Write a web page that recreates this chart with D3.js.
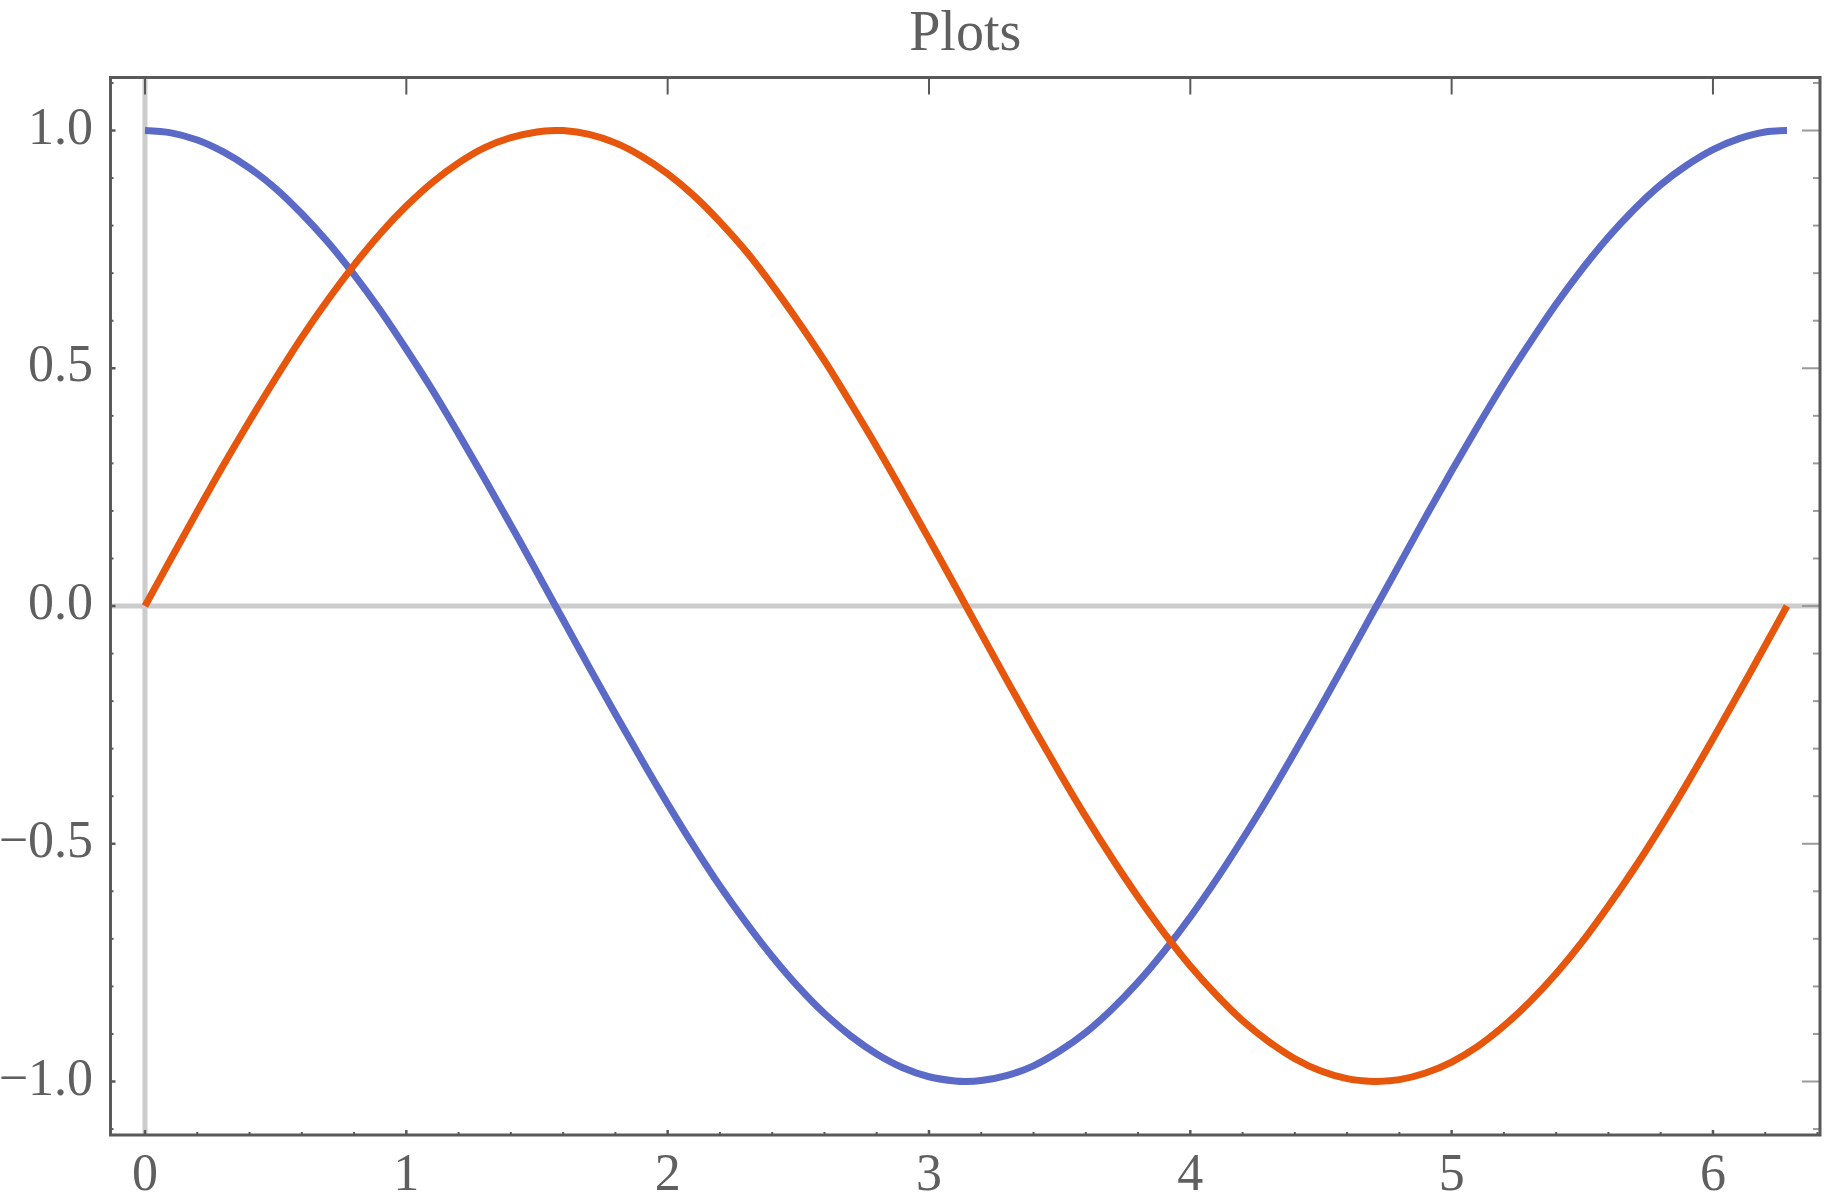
<!DOCTYPE html>
<html>
<head>
<meta charset="utf-8">
<script src="https://cdn.jsdelivr.net/npm/d3@7"></script>
<style>
html,body{margin:0;padding:0;background:#fff;}
svg{display:block;}
</style>
</head>
<body>
<svg id="chart" width="1838" height="1203"></svg>
<script>
const title = "Plots";
const xs = [0,0.1,0.2,0.3,0.4,0.5,0.6,0.7,0.8,0.9,1.0,1.1,1.2,1.3,1.4,1.5,1.5708,1.6,1.7,1.8,1.9,2.0,2.1,2.2,2.3,2.4,2.5,2.6,2.7,2.8,2.9,3.0,3.1,3.1416,3.2,3.3,3.4,3.5,3.6,3.7,3.8,3.9,4.0,4.1,4.2,4.3,4.4,4.5,4.6,4.7,4.7124,4.8,4.9,5.0,5.1,5.2,5.3,5.4,5.5,5.6,5.7,5.8,5.9,6.0,6.1,6.2,6.2832];
const sinValues = [0,0.100,0.199,0.296,0.389,0.479,0.565,0.644,0.717,0.783,0.841,0.891,0.932,0.964,0.985,0.997,1.000,1.000,0.992,0.974,0.946,0.909,0.863,0.808,0.746,0.675,0.598,0.516,0.427,0.335,0.239,0.141,0.042,0.000,-0.058,-0.158,-0.256,-0.351,-0.443,-0.530,-0.612,-0.688,-0.757,-0.818,-0.872,-0.916,-0.952,-0.978,-0.994,-1.000,-1.000,-0.996,-0.982,-0.959,-0.926,-0.883,-0.832,-0.773,-0.706,-0.631,-0.551,-0.465,-0.374,-0.279,-0.182,-0.083,0.000];
const cosValues = [1.000,0.995,0.980,0.955,0.921,0.878,0.825,0.765,0.697,0.622,0.540,0.454,0.362,0.267,0.170,0.071,0.000,-0.029,-0.129,-0.227,-0.323,-0.416,-0.505,-0.589,-0.666,-0.737,-0.801,-0.857,-0.904,-0.942,-0.971,-0.990,-0.999,-1.000,-0.998,-0.987,-0.967,-0.936,-0.897,-0.848,-0.791,-0.726,-0.654,-0.575,-0.490,-0.401,-0.307,-0.211,-0.112,-0.012,0.000,0.087,0.187,0.284,0.378,0.469,0.554,0.635,0.709,0.776,0.835,0.886,0.927,0.960,0.983,0.997,1.000];
const xTickValues = [0,1,2,3,4,5,6];
const xTickLabels = ["0","1","2","3","4","5","6"];
const xMinorTicks = [-0.2,0.2,0.4,0.6,0.8,1.2,1.4,1.6,1.8,2.2,2.4,2.6,2.8,3.2,3.4,3.6,3.8,4.2,4.4,4.6,4.8,5.2,5.4,5.6,5.8,6.2,6.4];
const yTickValues = [-1,-0.5,0,0.5,1];
const yTickLabels = ["\u22121.0","\u22120.5","0.0","0.5","1.0"];
const yMinorTicks = [-1.1,-0.9,-0.8,-0.7,-0.6,-0.4,-0.3,-0.2,-0.1,0.1,0.2,0.3,0.4,0.6,0.7,0.8,0.9,1.1];

const svg = d3.select("#chart");
const L = 110.5, R = 1820, T = 77.5, B = 1135;
const x = d3.scaleLinear().domain([-0.132, 6.4096]).range([L, R]);
const y = d3.scaleLinear().domain([-1.1125, 1.1115]).range([B, T]);

const frameColor = "#595959";
const textColor = "#5f5f5f";
const font = "'Liberation Serif', 'DejaVu Serif', serif";

// axes at zero
svg.append("line").attr("x1", x(0)).attr("x2", x(0)).attr("y1", T).attr("y2", B)
  .attr("stroke", "#cccccc").attr("stroke-width", 5);
svg.append("line").attr("x1", L).attr("x2", R).attr("y1", y(0)).attr("y2", y(0))
  .attr("stroke", "#cccccc").attr("stroke-width", 5);

const pts = (vals) => xs.map((v, i) => [v, vals[i]]);
const line = d3.line().x(d => x(d[0])).y(d => y(d[1])).curve(d3.curveCatmullRom);

svg.append("defs").append("clipPath").attr("id", "clip")
  .append("rect").attr("x", L).attr("y", T).attr("width", R - L).attr("height", B - T);

const g = svg.append("g").attr("clip-path", "url(#clip)");
g.append("path").datum(pts(cosValues)).attr("d", line)
  .attr("fill", "none").attr("stroke", "#5a6ac6").attr("stroke-width", 7).attr("stroke-linejoin", "round");
g.append("path").datum(pts(sinValues)).attr("d", line)
  .attr("fill", "none").attr("stroke", "#e6560c").attr("stroke-width", 7).attr("stroke-linejoin", "round");

// ticks
const tg = svg.append("g");
// bottom
xTickValues.forEach(v => tg.append("line").attr("x1", x(v)).attr("x2", x(v)).attr("y1", B).attr("y2", B - 5)
  .attr("stroke", frameColor).attr("stroke-width", 2.5));
xMinorTicks.filter(v => x(v) > L + 2 && x(v) < R - 2).forEach(v => tg.append("line").attr("x1", x(v)).attr("x2", x(v)).attr("y1", B).attr("y2", B - 3)
  .attr("stroke", frameColor).attr("stroke-width", 2));
// top
xTickValues.forEach(v => tg.append("line").attr("x1", x(v)).attr("x2", x(v)).attr("y1", T).attr("y2", T + 17)
  .attr("stroke", frameColor).attr("stroke-width", 2));
// left
yTickValues.forEach(v => tg.append("line").attr("x1", L).attr("x2", L + 5).attr("y1", y(v)).attr("y2", y(v))
  .attr("stroke", frameColor).attr("stroke-width", 2.5));
yMinorTicks.forEach(v => tg.append("line").attr("x1", L).attr("x2", L + 3).attr("y1", y(v)).attr("y2", y(v))
  .attr("stroke", frameColor).attr("stroke-width", 2));
// right
yTickValues.forEach(v => tg.append("line").attr("x1", R).attr("x2", R - 18).attr("y1", y(v)).attr("y2", y(v))
  .attr("stroke", "#9a9a9a").attr("stroke-width", 2));
yMinorTicks.forEach(v => tg.append("line").attr("x1", R).attr("x2", R - 7).attr("y1", y(v)).attr("y2", y(v))
  .attr("stroke", "#9a9a9a").attr("stroke-width", 2));

// frame
svg.append("rect").attr("x", L).attr("y", T).attr("width", R - L).attr("height", B - T)
  .attr("fill", "none").attr("stroke", frameColor).attr("stroke-width", 3);

// labels
xTickValues.forEach((v, i) => svg.append("text").attr("x", x(v)).attr("y", 1190)
  .attr("text-anchor", "middle").attr("font-family", font).attr("font-size", 52)
  .attr("fill", textColor).text(xTickLabels[i]));
yTickValues.forEach((v, i) => svg.append("text").attr("x", 93).attr("y", y(v) + 13)
  .attr("text-anchor", "end").attr("font-family", font).attr("font-size", 52)
  .attr("fill", textColor).text(yTickLabels[i]));

svg.append("text").attr("x", (L + R) / 2).attr("y", 50).attr("text-anchor", "middle")
  .attr("font-family", font).attr("font-size", 56).attr("fill", textColor).text(title);
</script>
</body>
</html>
